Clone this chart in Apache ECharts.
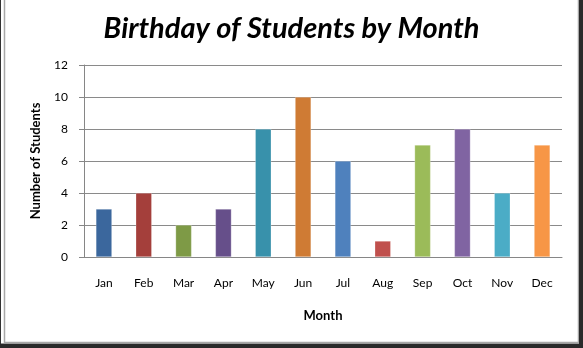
<!DOCTYPE html>
<html>
<head>
<meta charset="utf-8">
<script src="https://cdn.jsdelivr.net/npm/echarts@6/dist/echarts.min.js"></script>
<style>
  html, body { margin: 0; padding: 0; background: #fff; }
  #chart { width: 583px; height: 348px; }
</style>
</head>
<body>
<div id="chart"></div>
<script>
// Birthdays per month
const months = ['Jan', 'Feb', 'Mar', 'Apr', 'May', 'Jun', 'Jul', 'Aug', 'Sep', 'Oct', 'Nov', 'Dec'];
const students = [3, 4, 2, 3, 8, 10, 6, 1, 7, 8, 4, 7];
const barColors = ['#3B679D', '#A43F3B', '#7E9A46', '#664F8A', '#3891AB', '#CF7B34',
                   '#4F81BD', '#C0504D', '#9BBB59', '#8064A2', '#4BACC6', '#F79646'];
const yTicks = [0, 2, 4, 6, 8, 10, 12];

const font = 'Lato, "Open Sans", sans-serif';
const chart = echarts.init(document.getElementById('chart'), null, { renderer: 'canvas' });

chart.setOption({
  animation: false,
  backgroundColor: '#ffffff',
  title: {
    text: 'Birthday of Students by Month',
    left: 'center',
    top: 9,
    textStyle: { fontFamily: font, fontSize: 29, fontWeight: 'bold', fontStyle: 'italic', color: '#000' }
  },
  grid: { left: 84, right: 21, top: 65, bottom: 91, containLabel: false },
  xAxis: {
    type: 'category',
    data: months,
    name: 'Month',
    nameLocation: 'middle',
    nameGap: 52,
    nameTextStyle: { fontFamily: font, fontSize: 13, fontWeight: 'bold', color: '#000' },
    axisLine: { show: true, lineStyle: { color: '#868686', width: 1 } },
    axisTick: { show: false },
    axisLabel: { fontFamily: font, fontSize: 12, color: '#000', margin: 20 }
  },
  yAxis: {
    type: 'value',
    min: yTicks[0],
    max: yTicks[yTicks.length - 1],
    interval: 2,
    name: 'Number of Students',
    nameLocation: 'middle',
    nameGap: 42,
    nameRotate: 90,
    nameTextStyle: { fontFamily: font, fontSize: 13, fontWeight: 'bold', color: '#000' },
    axisLine: { show: true, lineStyle: { color: '#868686', width: 1 } },
    axisTick: { show: true, length: 5, lineStyle: { color: '#868686' } },
    axisLabel: { fontFamily: font, fontSize: 12, color: '#000', margin: 16 },
    splitLine: { show: true, lineStyle: { color: '#8a8a8a', width: 1 } }
  },
  series: [{
    type: 'bar',
    data: students.map((v, i) => ({ value: v, itemStyle: { color: barColors[i] } })),
    barWidth: 16,
    itemStyle: { borderColor: 'rgba(255,255,255,0.5)', borderWidth: 0.5 }
  }],
  graphic: [
    // outer frame: dark edge and inner grey edge
    { type: 'rect', shape: { x: 0, y: -4, width: 583, height: 351 }, style: { fill: 'none', stroke: '#333', lineWidth: 2 }, silent: true },
    { type: 'rect', shape: { x: 0.5, y: -4, width: 581, height: 348 }, style: { fill: 'none', stroke: '#333', lineWidth: 1 }, silent: true },
    { type: 'rect', shape: { x: 4.5, y: -4, width: 574, height: 346.5 }, style: { fill: 'none', stroke: '#a8a8a8', lineWidth: 1.5 }, silent: true },
    { type: 'rect', shape: { x: 579, y: -4, width: 4, height: 352 }, style: { fill: '#2a2a2a' }, silent: true },
    { type: 'rect', shape: { x: 0, y: 344, width: 583, height: 4 }, style: { fill: '#2a2a2a' }, silent: true }
  ]
});
</script>
</body>
</html>
